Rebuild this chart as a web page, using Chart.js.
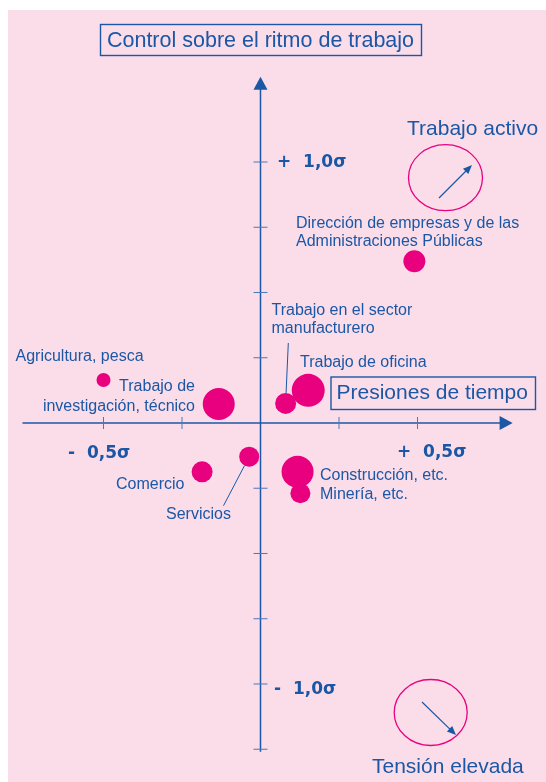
<!DOCTYPE html>
<html>
<head>
<meta charset="utf-8">
<title>Control sobre el ritmo de trabajo</title>
<script src="https://cdn.jsdelivr.net/npm/chart.js@4"></script>
<style>
  html, body { margin: 0; padding: 0; background: #fff; }
  canvas { display: block; }
</style>
</head>
<body>
<canvas id="chart" width="546" height="782"></canvas>
<script>
'use strict';

// sectores: x = presiones de tiempo, y = control sobre el ritmo (en sigmas)
const sectors = ['Dirección de empresas y de las Administraciones Públicas', 'Agricultura, pesca',
  'Trabajo de investigación, técnico', 'Trabajo en el sector manufacturero', 'Trabajo de oficina',
  'Comercio', 'Servicios', 'Construcción, etc.', 'Minería, etc.'];
const timePressure = [0.49, -0.50, -0.133, 0.080, 0.152, -0.186, -0.036, 0.118, 0.127];
const paceControl = [0.62, 0.165, 0.073, 0.075, 0.125, -0.187, -0.129, -0.187, -0.269];
const bubbleSize = [11, 7, 16, 10.5, 16.5, 10.5, 10, 16, 10];

const xTicks = [-0.5, -0.25, 0.25, 0.5];
const yTicks = [1.0, 0.75, 0.5, 0.25, -0.25, -0.5, -0.75, -1.0, -1.25];
const tickLabels = ['-  0,5σ', '+  0,5σ', '+  1,0σ', '-  1,0σ'];

const PINK = '#fbdde9';
const BLUE = '#1b57a5';
const MAGENTA = '#e8007f';
const FONT = "'Liberation Sans', Arial, Helvetica, sans-serif";

// axis extents in sigma units
const xAxisFrom = -0.758, xAxisTo = 0.803;
const yAxisFrom = -1.26, yAxisTo = 1.327;

function arrowHead(ctx, x1, y1, x2, y2, len, half) {
  const a = Math.atan2(y2 - y1, x2 - x1);
  const bx = x2 - len * Math.cos(a), by = y2 - len * Math.sin(a);
  ctx.beginPath();
  ctx.moveTo(x2, y2);
  ctx.lineTo(bx + half * Math.sin(a), by - half * Math.cos(a));
  ctx.lineTo(bx - half * Math.sin(a), by + half * Math.cos(a));
  ctx.closePath();
  ctx.fill();
}

function arrow(ctx, x1, y1, x2, y2) {
  const a = Math.atan2(y2 - y1, x2 - x1);
  ctx.beginPath();
  ctx.moveTo(x1, y1);
  ctx.lineTo(x2 - 6 * Math.cos(a), y2 - 6 * Math.sin(a));
  ctx.stroke();
  arrowHead(ctx, x1, y1, x2, y2, 9, 3.8);
}

function boxedText(ctx, text, left, top, right, bottom, tx, ty, align) {
  ctx.lineWidth = 1.4;
  ctx.strokeRect(left, top, right - left, bottom - top);
  ctx.textAlign = align;
  ctx.fillText(text, tx, ty);
}

const crossAxes = {
  id: 'crossAxes',
  beforeDraw(chart) {
    const ctx = chart.ctx;
    ctx.save();
    ctx.fillStyle = '#fff';
    ctx.fillRect(0, 0, chart.width, chart.height);
    ctx.fillStyle = PINK;
    ctx.fillRect(8, 10, chart.width - 8, chart.height - 10);
    ctx.restore();
  },
  beforeDatasetsDraw(chart) {
    const {ctx, scales: {x, y}} = chart;
    const x0 = x.getPixelForValue(0);
    const y0 = y.getPixelForValue(0);
    ctx.save();
    ctx.strokeStyle = BLUE;
    ctx.fillStyle = BLUE;

    // horizontal axis
    const xa = x.getPixelForValue(xAxisFrom), xb = x.getPixelForValue(xAxisTo);
    ctx.lineWidth = 1.5;
    ctx.beginPath();
    ctx.moveTo(xa, y0);
    ctx.lineTo(xb - 10, y0);
    ctx.stroke();
    ctx.beginPath();
    ctx.moveTo(xb, y0);
    ctx.lineTo(xb - 13, y0 - 7);
    ctx.lineTo(xb - 13, y0 + 7);
    ctx.closePath();
    ctx.fill();

    // vertical axis
    const ya = y.getPixelForValue(yAxisFrom), yb = y.getPixelForValue(yAxisTo);
    ctx.beginPath();
    ctx.moveTo(x0, ya);
    ctx.lineTo(x0, yb + 10);
    ctx.stroke();
    ctx.beginPath();
    ctx.moveTo(x0, yb);
    ctx.lineTo(x0 - 7, yb + 13);
    ctx.lineTo(x0 + 7, yb + 13);
    ctx.closePath();
    ctx.fill();

    // ticks
    ctx.lineWidth = 1;
    ctx.strokeStyle = '#4a78b8';
    xTicks.forEach(v => {
      const px = x.getPixelForValue(v);
      ctx.beginPath();
      ctx.moveTo(px, y0 - 6);
      ctx.lineTo(px, y0 + 6);
      ctx.stroke();
    });
    yTicks.forEach(v => {
      const py = y.getPixelForValue(v);
      ctx.beginPath();
      ctx.moveTo(x0 - 7, py);
      ctx.lineTo(x0 + 7, py);
      ctx.stroke();
    });

    // tick labels (wide bold face like the original)
    ctx.font = "bold 17px 'DejaVu Sans', Verdana, sans-serif";
    ctx.textAlign = 'left';
    ctx.fillText(tickLabels[0], 68, 457.5);
    ctx.fillText(tickLabels[1], 397, 457);
    ctx.fillText(tickLabels[2], 277, 167);
    ctx.fillText(tickLabels[3], 274, 693.5);

    // boxed titles
    ctx.strokeStyle = BLUE;
    ctx.font = '21.5px ' + FONT;
    boxedText(ctx, 'Control sobre el ritmo de trabajo', 100.5, 24.5, 421.5, 55.5, x0, 47, 'center');
    ctx.font = '21px ' + FONT;
    boxedText(ctx, 'Presiones de tiempo', 331, 377, 535.5, 409.5, 336.5, 398.5, 'left');

    // quadrant notes
    ctx.textAlign = 'left';
    ctx.fillText('Trabajo activo', 407, 135);
    ctx.fillText('Tensión elevada', 372, 773);

    ctx.strokeStyle = MAGENTA;
    ctx.lineWidth = 1.3;
    ctx.beginPath();
    ctx.ellipse(445.5, 177.7, 37, 33, 0, 0, Math.PI * 2);
    ctx.stroke();
    ctx.beginPath();
    ctx.ellipse(430.7, 712.5, 36.5, 33, 0, 0, Math.PI * 2);
    ctx.stroke();

    ctx.strokeStyle = BLUE;
    ctx.lineWidth = 1.2;
    arrow(ctx, 439, 198, 472, 165);
    arrow(ctx, 422, 702, 456, 735);
    ctx.restore();
  },
  afterDatasetsDraw(chart) {
    const ctx = chart.ctx;
    const pts = chart.getDatasetMeta(0).data;
    ctx.save();
    ctx.fillStyle = BLUE;
    ctx.strokeStyle = BLUE;
    ctx.font = '16px ' + FONT;
    ctx.textAlign = 'left';
    ctx.fillText('Dirección de empresas y de las', 296, 227.5);
    ctx.fillText('Administraciones Públicas', 296, 246);
    ctx.fillText('Agricultura, pesca', 15.5, 361);
    ctx.fillText('Trabajo en el sector', 271.5, 314.5);
    ctx.fillText('manufacturero', 271.5, 333);
    ctx.fillText('Trabajo de oficina', 300, 367);
    ctx.fillText('Comercio', 116, 489);
    ctx.fillText('Servicios', 166, 518.5);
    ctx.fillText('Construcción, etc.', 320, 480);
    ctx.fillText('Minería, etc.', 320, 499);
    ctx.textAlign = 'right';
    ctx.fillText('Trabajo de', 195, 391);
    ctx.fillText('investigación, técnico', 195, 411);

    // leader lines from label to bubble edge
    ctx.lineWidth = 1;
    [[3, 288.3, 343], [6, 223.5, 505.7]].forEach(([i, ax, ay]) => {
      const p = pts[i];
      const r = bubbleSize[i];
      const d = Math.hypot(ax - p.x, ay - p.y);
      ctx.beginPath();
      ctx.moveTo(ax, ay);
      ctx.lineTo(p.x + (ax - p.x) / d * r, p.y + (ay - p.y) / d * r);
      ctx.stroke();
    });
    ctx.restore();
  }
};

const canvasEl = document.getElementById('chart');

new Chart(canvasEl, {
  type: 'bubble',
  data: {
    labels: sectors,
    datasets: [{
      label: 'Sectores',
      data: sectors.map((s, i) => ({x: timePressure[i], y: paceControl[i], r: bubbleSize[i]})),
      backgroundColor: MAGENTA,
      borderWidth: 0,
      hoverRadius: 0,
      clip: false
    }]
  },
  options: {
    responsive: false,
    animation: false,
    devicePixelRatio: 1,
    layout: {padding: 0, autoPadding: false},
    plugins: {
      legend: {display: false},
      tooltip: {enabled: false}
    },
    scales: {
      x: {type: 'linear', min: -0.8296, max: 0.9092, display: false},
      y: {type: 'linear', min: -1.3755, max: 1.6207, display: false}
    }
  },
  plugins: [crossAxes]
});
</script>
</body>
</html>
